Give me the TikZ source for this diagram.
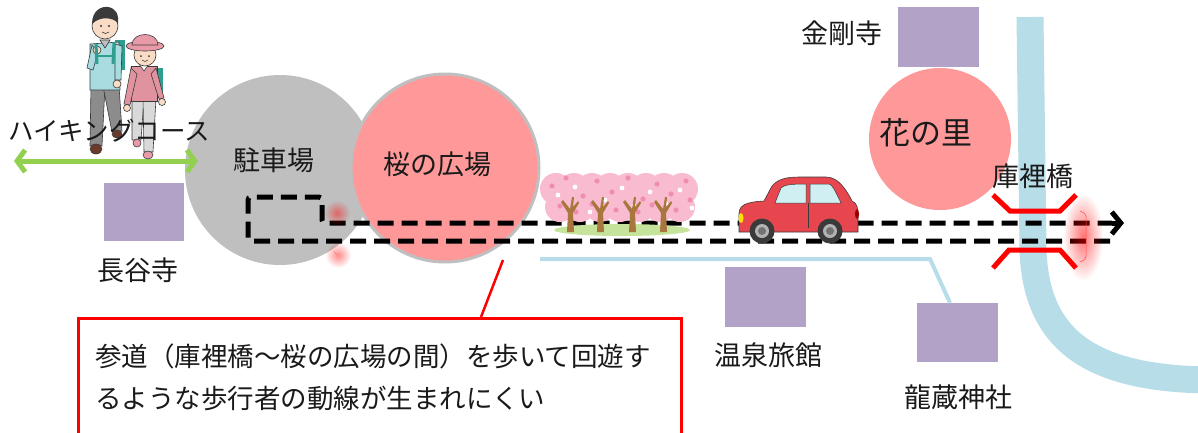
\documentclass[tikz,border=0pt]{standalone}
\usepackage{fontspec}
\setmainfont{Noto Sans CJK JP}
\usetikzlibrary{arrows.meta,fadings}

\definecolor{parkgray}{HTML}{BFBFBF}
\definecolor{sakura}{HTML}{FF9999}
\definecolor{lav}{HTML}{B3A2C7}
\definecolor{water}{HTML}{B7DEE8}
\definecolor{leaf}{HTML}{92D050}
\definecolor{ink}{HTML}{1A1A1A}
\definecolor{skin}{HTML}{F9DCC6}
\definecolor{hair}{HTML}{3A3A3A}
\definecolor{shirtblue}{HTML}{A8DCE0}
\definecolor{packteal}{HTML}{2E9E8F}
\definecolor{pantsgray}{HTML}{8C8C8C}
\definecolor{shoebrown}{HTML}{6B3A2A}
\definecolor{hatpink}{HTML}{E89AA8}
\definecolor{shirtpink}{HTML}{E0939E}
\definecolor{pantslight}{HTML}{D9D9D9}
\definecolor{bloom}{HTML}{F8BBD0}
\definecolor{bloomdark}{HTML}{F28DB2}
\definecolor{trunk}{HTML}{A9763E}
\definecolor{grass}{HTML}{C5E39A}
\definecolor{carred}{HTML}{E8464F}
\definecolor{glass}{HTML}{CFEFF2}

\tikzfading[name=softglow, inner color=transparent!0, outer color=transparent!100]

\tikzset{
  label/.style={font=\fontsize{27}{29}\selectfont, text=ink, inner sep=0pt},
  bigLabel/.style={font=\fontsize{31}{33}\selectfont, text=ink, inner sep=0pt},
  place/.style={fill=lav, inner sep=0pt},
  area/.style={circle, inner sep=0pt},
  route/.style={line width=5pt, dash pattern=on 16pt off 8pt, draw=black},
  bridge/.style={draw=red, line width=5pt, line join=miter},
  outline/.style={draw=hair, line width=0.6pt},
  glow/.style={fill=red, path fading=softglow},
}

\begin{document}
\begin{tikzpicture}[x=1pt,y=-1pt]
\useasboundingbox (0,0) rectangle (1198,432);
\fill[white] (0,0) rectangle (1198,432);

% river
\draw[water, line width=27pt] (1030,17) -- (1033,250)
  .. controls (1036,340) and (1090,380) .. (1215,380);

% areas
\node[area, fill=parkgray, minimum size=190pt] (park) at (280,170) {};
\node[area, fill=sakura, draw=parkgray, line width=3pt, minimum size=188pt] (plaza) at (445,168) {};
\node[area, fill=sakura, minimum size=142pt] (village) at (940,139) {};

% side road
\node[place, minimum width=81pt, minimum height=59pt] (ryuzo) at (957.5,332.5) {};
\coordinate (roadA) at (540,259);
\coordinate (roadB) at (930,259);
\draw[water, line width=4pt] (roadA) -- (roadB) -- (ryuzo.north -| 950,0);

% temples and inn
\node[place, minimum width=80pt, minimum height=58pt] (hase) at (144,211.5) {};
\node[place, minimum width=81pt, minimum height=60pt] (kongo) at (938.5,37) {};
\node[place, minimum width=81pt, minimum height=60pt] (onsen) at (765.5,297) {};

% walking route
\coordinate (r0) at (1110,241);
\coordinate (r1) at (248,241);
\coordinate (r2) at (248,197);
\coordinate (r3) at (322,197);
\coordinate (r4) at (322,223);
\coordinate (r5) at (1112,223);
\coordinate (r6) at (1124,223);
\draw[route, rounded corners=3pt] (r0) -- (r1) -- (r2) -- (r3) -- (r4) -- (r5);
\draw[line width=5pt, -{Straight Barb[length=9pt, width=22pt, line width=5pt]}] (r5) -- (r6);

% hiking course arrow
\coordinate (h0) at (14,161);
\coordinate (h1) at (198,161);
\draw[leaf, line width=5pt, {Straight Barb[length=8pt, width=22pt]}-{Straight Barb[length=8pt, width=22pt]}] (h0) -- (h1);

% cherry trees
\begin{scope}
  \fill[grass] (622,230) ellipse [x radius=68, y radius=6];
  \foreach \cx in {556,574,592,610,628,646,664,682}
    \fill[bloom] (\cx,189) circle (16);
  \foreach \cx in {560,580,600,620,640,660,680}
    \fill[bloom] (\cx,207) circle (15);
  \foreach \px/\py in {552/186,566/178,583/196,597/181,612/192,628/178,643/199,657/184,671/194,686/181,
                       560/206,576/212,592/204,616/210,638/212,652/205,676/210,690/200}
    \fill[bloomdark] (\px,\py) circle (2.6);
  \foreach \px/\py in {558/195,575/187,590/212,605/200,622/188,634/206,650/192,666/204,680/190,692/208}
    \fill[white] (\px,\py) circle (2.4);
  \foreach \tx in {570,600,632,663}
    \fill[trunk] (\tx-3,232) -- (\tx-2,213) -- (\tx-9,202) -- (\tx-7,200) -- (\tx,209)
      -- (\tx+2,197) -- (\tx+4,197) -- (\tx+3,207) -- (\tx+8,201) -- (\tx+9,203) -- (\tx+3,213) -- (\tx+4,232) -- cycle;
\end{scope}

% car
\begin{scope}
  \filldraw[fill=carred, draw=hair, line width=0.6pt]
    (739,232) -- (739,214) .. controls (739,205) and (746,202) .. (764,201)
    -- (772,186) .. controls (778,179) and (786,177) .. (800,177) -- (826,177)
    .. controls (838,177) and (846,189) .. (852,201)
    .. controls (857,203) and (858,208) .. (858,215) -- (858,232) -- cycle;
  \filldraw[fill=glass, draw=hair, line width=0.5pt] (775,203) -- (781,188) .. controls (784,185) and (790,184) .. (806,184) -- (806,203) -- cycle;
  \filldraw[fill=glass, draw=hair, line width=0.5pt] (810,184) -- (829,184) .. controls (833,185) and (837,195) .. (841,203) -- (810,203) -- cycle;
  \draw[hair, line width=0.5pt] (808,203) -- (808,228);
  \fill[yellow!80!orange] (741,218) ellipse [x radius=2.5, y radius=5];
  \fill[red!60!black] (857,214) ellipse [x radius=2, y radius=5];
  \foreach \wx in {762,830} {
    \fill[hair] (\wx,231) circle (12.5);
    \fill[gray!60] (\wx,231) circle (7);
    \fill[gray!90!black] (\wx,231) circle (4);
  }
\end{scope}

% bridge
\coordinate (b0) at (993,195);
\coordinate (b1) at (1010,211);
\coordinate (b2) at (1060,211);
\coordinate (b3) at (1076,195);
\coordinate (b4) at (993,268);
\coordinate (b5) at (1009,250);
\coordinate (b6) at (1060,250);
\coordinate (b7) at (1076,268);
\draw[bridge] (b0) -- (b1) -- (b2) -- (b3);
\draw[bridge] (b4) -- (b5) -- (b6) -- (b7);

% soft highlights
\fill[glow, opacity=0.55] (1083,237) ellipse [x radius=20, y radius=44];
\draw[red!70, line width=0.5pt, rounded corners=3pt] (1080,211) -- (1086,214) -- (1086,259) -- (1080,262);
\fill[glow, opacity=0.45] (337,213) circle (13);
\fill[glow, opacity=0.45] (338,255) circle (13);
\draw[red!60, line width=0.4pt] (333,217) arc (200:250:6);
\draw[red!60, line width=0.4pt] (334,251) arc (160:110:6);

% hikers: man
\begin{scope}
  \fill[packteal] (115,40) rectangle (125,70);
  \filldraw[fill=pantsgray, outline] (91,86) -- (105,86) -- (102,146) -- (90,146) -- cycle;
  \filldraw[fill=pantsgray, outline] (103,86) -- (119,86) -- (122,131) -- (112,132) -- cycle;
  \filldraw[fill=shoebrown, outline] (96,149) ellipse [x radius=6, y radius=5];
  \filldraw[fill=shoebrown, outline] (117,134) ellipse [x radius=5, y radius=4];
  \filldraw[fill=shirtblue, outline] (90,44) -- (119,42) -- (120,90) -- (90,90) -- cycle;
  \filldraw[fill=shirtblue, outline] (115,44) -- (122,46) -- (121,80) -- (115,80) -- cycle;
  \filldraw[fill=skin, outline] (117,84) circle (4);
  \filldraw[fill=shirtblue, outline] (92,45) -- (87,68) -- (93,70) -- (98,52) -- cycle;
  \filldraw[fill=skin, outline] (97,50) circle (4);
  \draw[packteal, line width=3pt] (96,44) -- (97,64);
  \draw[packteal, line width=3pt] (114,42) -- (113,64);
  \draw[packteal, line width=2pt] (97,56) -- (113,56);
  \filldraw[fill=gray!50, outline] (100,40) -- (110,40) -- (105,48) -- cycle;
  \filldraw[fill=skin, outline] (105,26) circle (13);
  \fill[hair] (92,24) .. controls (92,10) and (102,6) .. (108,7) .. controls (116,8) and (119,15) .. (118,23)
    .. controls (112,17) and (100,16) .. (92,24) -- cycle;
  \fill[hair] (101,26) circle (1.2);
  \fill[hair] (109,26) circle (1.2);
  \draw[hair, line width=0.6pt] (102,32) .. controls (104,34) and (107,34) .. (109,32);
\end{scope}

% hikers: woman
\begin{scope}
  \fill[packteal] (154,68) rectangle (163,97);
  \filldraw[fill=pantslight, outline] (132,98) -- (144,98) -- (141,140) -- (132,140) -- cycle;
  \filldraw[fill=pantslight, outline] (143,98) -- (156,98) -- (153,152) -- (144,152) -- cycle;
  \filldraw[fill=hatpink, outline] (137,143) ellipse [x radius=4, y radius=4];
  \filldraw[fill=hatpink, outline] (148,155) ellipse [x radius=5, y radius=4];
  \filldraw[fill=shirtpink, outline] (131,66) -- (157,66) -- (157,101) -- (131,101) -- cycle;
  \filldraw[fill=shirtpink, outline] (131,68) -- (124,104) -- (130,105) -- (137,74) -- cycle;
  \filldraw[fill=shirtpink, outline] (156,68) -- (164,98) -- (159,99) -- (151,74) -- cycle;
  \filldraw[fill=skin, outline] (127,108) circle (3.5);
  \filldraw[fill=skin, outline] (162,102) circle (3.5);
  \filldraw[fill=white, outline] (139,64) -- (149,64) -- (144,71) -- cycle;
  \filldraw[fill=skin, outline] (145,55) circle (11);
  \filldraw[fill=hatpink, outline] (145,46) ellipse [x radius=19, y radius=5];
  \filldraw[fill=hatpink, outline] (132,45) .. controls (132,31) and (158,31) .. (158,45) -- cycle;
  \fill[hair] (141,56) circle (1);
  \fill[hair] (149,56) circle (1);
  \draw[hair, line width=0.6pt] (142,60) .. controls (144,62) and (146,62) .. (148,60);
\end{scope}

% labels
\node[label, font=\fontsize{25.5}{28}\selectfont] (lhike) at (109,131) {ハイキングコース};
\node[label] (lpark) at (274,160) {駐車場};
\node[label] (lplaza) at (437,164) {桜の広場};
\node[bigLabel] (lvillage) at (926,133) {花の里};
\node[label] (lhase) at (138,270) {長谷寺};
\node[label] (lkongo) at (842,33) {金剛寺};
\node[label] (lonsen) at (768,355) {温泉旅館};
\node[label] (lryuzo) at (958,397) {龍蔵神社};
\node[label] (lbridge) at (1033,176) {庫裡橋};

% callout
\node[draw=red, line width=2.5pt, inner sep=0pt, anchor=north west,
      minimum width=603pt, minimum height=130pt] (note) at (77,317) {};
\coordinate (tip) at (503,260);
\coordinate (foot) at (481,317);
\draw[red, line width=2.5pt] (tip) -- (foot);
\node[label, font=\fontsize{26.5}{29}\selectfont, anchor=west] (noteA) at (95,356) {参道（庫裡橋～桜の広場の間）を歩いて回遊す};
\node[label, font=\fontsize{26.5}{29}\selectfont, anchor=west] (noteB) at (95,398) {るような歩行者の動線が生まれにくい};
\end{tikzpicture}
\end{document}
